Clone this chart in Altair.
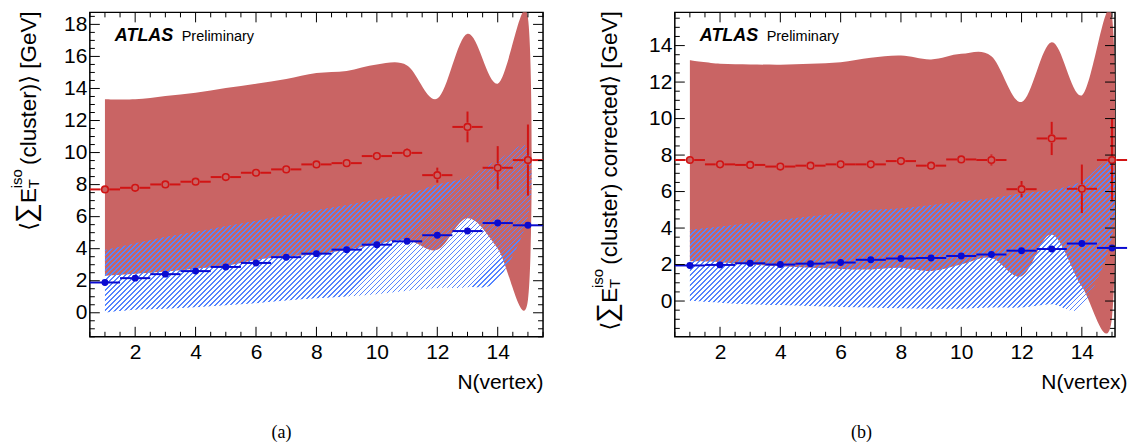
import altair as alt
import pandas as pd

NVTX = list(range(1, 16))

# ---------------- panel (a) ----------------
A_RED = [7.70, 7.80, 8.01, 8.18, 8.47, 8.74, 8.95, 9.26, 9.34, 9.78, 9.98, 8.59, 11.60, 9.05, 9.53]
A_RED_ERR = [0, 0, 0, 0, 0, 0, 0, 0, 0, 0, 0.22, 0.47, 0.96, 1.35, 2.22]
A_BLUE = [1.89, 2.16, 2.41, 2.60, 2.86, 3.11, 3.47, 3.69, 3.94, 4.25, 4.46, 4.84, 5.10, 5.60, 5.46]
A_RED_UP = [13.32, 13.32, 13.53, 13.74, 14.03, 14.30, 14.59, 14.96, 15.09, 15.50, 15.44, 13.37, 17.41, 14.30, 18.40]
A_RED_LO = [2.30, 2.43, 2.57, 2.74, 2.93, 3.30, 3.51, 3.66, 3.93, 4.30, 4.55, 3.93, 5.90, 4.00, 0.80]
A_BLUE_UP = [3.92, 4.34, 4.75, 5.06, 5.42, 5.75, 6.10, 6.41, 6.72, 7.08, 7.41, 8.00, 8.49, 9.53, 10.30]
A_BLUE_LO = [0.02, 0.19, 0.25, 0.35, 0.47, 0.60, 0.77, 0.91, 1.02, 1.16, 1.37, 1.54, 1.60, 2.05, 6.00]

# ---------------- panel (b) ----------------
B_RED = [7.73, 7.49, 7.46, 7.37, 7.42, 7.49, 7.49, 7.67, 7.42, 7.76, 7.73, 6.13, 8.91, 6.15, 7.73]
B_RED_ERR = [0, 0, 0, 0, 0, 0, 0, 0, 0, 0, 0.30, 0.45, 0.91, 1.33, 2.27]
B_BLUE = [1.95, 1.98, 2.07, 2.00, 2.05, 2.11, 2.26, 2.33, 2.36, 2.47, 2.55, 2.76, 2.85, 3.15, 2.91]
B_RED_UP = [13.19, 13.00, 12.97, 12.95, 13.00, 13.09, 13.33, 13.45, 13.24, 13.55, 13.42, 10.91, 14.18, 11.27, 15.60]
B_RED_LO = [2.18, 2.13, 2.00, 1.91, 1.82, 1.76, 1.73, 1.82, 1.64, 2.00, 2.36, 1.36, 3.64, 0.80, -0.90]
B_BLUE_UP = [3.91, 4.09, 4.27, 4.45, 4.64, 4.82, 5.00, 5.09, 5.27, 5.46, 5.64, 5.91, 6.09, 6.55, 7.60]
B_BLUE_LO = [0.00, -0.09, -0.18, -0.22, -0.27, -0.33, -0.36, -0.40, -0.42, -0.42, -0.36, -0.36, -0.18, -0.30, 3.50]

X_LABELS = [2, 4, 6, 8, 10, 12, 14]
A_Y_LABELS = [0, 2, 4, 6, 8, 10, 12, 14, 16, 18]
B_Y_LABELS = [0, 2, 4, 6, 8, 10, 12, 14]

FONT = "Liberation Sans"
TFONT = "Liberation Sans, DejaVu Sans"
RED_BAND = "#c96464"
RED = "#d11414"
BLUE = "#0b0bd0"
HATCH = "#5585ff"
HATCH_T = "rgba(85,133,255,0)"
H = 325


def spline_bbox(px, py):
    """Bounding box (pixels) of the d3 'cardinal' curve through the given pixel points."""
    n = len(px)
    k = 1.0 / 6.0
    xs_all, ys_all = list(px), list(py)
    for i in range(n - 1):
        im1 = max(i - 1, 0)
        ip2 = min(i + 2, n - 1)
        if i == 0:
            c1 = (px[0], py[0])
        else:
            c1 = (px[i] + k * (px[i + 1] - px[im1]), py[i] + k * (py[i + 1] - py[im1]))
        if i == n - 2:
            c2 = (px[n - 1], py[n - 1])
        else:
            c2 = (px[i + 1] - k * (px[ip2] - px[i]), py[i + 1] - k * (py[ip2] - py[i]))
        for s in range(1, 40):
            t = s / 40.0
            a, b, c, d = (1 - t) ** 3, 3 * (1 - t) ** 2 * t, 3 * (1 - t) * t * t, t ** 3
            xs_all.append(a * px[i] + b * c1[0] + c * c2[0] + d * px[i + 1])
            ys_all.append(a * py[i] + b * c1[1] + c * c2[1] + d * py[i + 1])
    return max(xs_all) - min(xs_all), max(ys_all) - min(ys_all)


def hatch_fill(w, h, period=5.0, frac=0.36):
    r = h / w
    s = (1 + r) / (1 + r * r)
    dt = period / (w + h)
    stops = []
    k = 0
    while (k + 1) * dt <= 1:
        a = round(k * dt, 6)
        b = round(k * dt + frac * dt, 6)
        stops += [alt.GradientStop(color=HATCH_T, offset=a),
                  alt.GradientStop(color=HATCH, offset=a),
                  alt.GradientStop(color=HATCH, offset=b),
                  alt.GradientStop(color=HATCH_T, offset=b)]
        k += 1
    return alt.LinearGradient(gradient="linear", stops=stops, x1=0, y1=0, x2=s, y2=s * r)


def polygon(up, lo):
    return pd.DataFrame({"x": NVTX + NVTX[::-1], "y": up + lo[::-1], "i": list(range(2 * len(NVTX)))})


def text_layer(txt, x, y, size, align="left", angle=0, weight="normal", style="normal",
               font=FONT, baseline="middle"):
    return alt.Chart(pd.DataFrame({"t": [txt]})).mark_text(
        font=font, fontSize=size, align=align, angle=angle, fontWeight=weight,
        fontStyle=style, baseline=baseline, color="black"
    ).encode(text="t:N", x=alt.value(x), y=alt.value(y))


def panel(W, xdom, ydom, red, red_err, blue, red_up, red_lo, blue_up, blue_lo,
          ylabels, ymain, tx, ty, xtitle_x, caption, cap_x, anchor_x):
    xs = alt.Scale(domain=xdom, nice=False, zero=False)
    ys = alt.Scale(domain=ydom, nice=False, zero=False)
    xax = alt.Axis(values=X_LABELS, ticks=False, domain=False, grid=False, labelFontSize=21,
                   labelPadding=5, labelFont=FONT, labelColor="black", title="N(vertex)",
                   titleFont=FONT, titleFontSize=21, titleFontWeight="normal", titleColor="black",
                   titleX=xtitle_x, titleY=52, titleAlign="right", titleBaseline="alphabetic")
    yax = alt.Axis(values=ylabels, ticks=False, domain=False, grid=False, labelFontSize=21,
                   labelPadding=3, labelFont=FONT, labelColor="black", title="")

    def X(f):
        return alt.X(f, type="quantitative", scale=xs, axis=xax)

    def Y(f):
        return alt.Y(f, type="quantitative", scale=ys, axis=yax)

    pts = pd.DataFrame({"n": NVTX, "red": red, "err": red_err, "blue": blue})
    pts["lo"] = pts["n"] - 0.5
    pts["hi"] = pts["n"] + 0.5
    pts["rtop"] = pts["red"] + pts["err"]
    pts["rbot"] = pts["red"] - pts["err"]
    perr = pts[pts["err"] > 0.2]

    blue_poly = polygon(blue_up, blue_lo)
    bpx = [(v - xdom[0]) / (xdom[1] - xdom[0]) * W for v in blue_poly["x"]]
    bpy = [(ydom[1] - v) / (ydom[1] - ydom[0]) * H for v in blue_poly["y"]]
    hw, hh = spline_bbox(bpx, bpy)

    layers = []
    # invisible anchor for layout
    layers.append(alt.Chart(pd.DataFrame({"a": [0]})).mark_rule(opacity=0, strokeWidth=0.01).encode(
        x=alt.value(anchor_x), y=alt.value(-11), y2=alt.value(434)))
    layers.append(alt.Chart(polygon(red_up, red_lo)).mark_line(
        filled=True, interpolate="cardinal", clip=True, color=RED_BAND, opacity=1).encode(
        x=X("x"), y=Y("y"), order=alt.Order("i:Q")))
    layers.append(alt.Chart(blue_poly).mark_line(
        filled=True, interpolate="cardinal", clip=True, fill=hatch_fill(hw, hh), opacity=1).encode(
        x=X("x"), y=Y("y"), order=alt.Order("i:Q")))
    # blue points
    layers.append(alt.Chart(pts).mark_rule(color=BLUE, strokeWidth=2).encode(
        x=X("lo"), x2="hi", y=Y("blue")))
    layers.append(alt.Chart(pts).mark_circle(color=BLUE, size=48, opacity=1).encode(
        x=X("n"), y=Y("blue")))
    # red points
    gap = 4.3
    layers.append(alt.Chart(pts).mark_rule(color=RED, strokeWidth=2, x2Offset=-gap).encode(
        x=X("lo"), x2="n", y=Y("red")))
    layers.append(alt.Chart(pts).mark_rule(color=RED, strokeWidth=2, xOffset=gap).encode(
        x=X("n"), x2="hi", y=Y("red")))
    layers.append(alt.Chart(perr).mark_rule(color=RED, strokeWidth=2, y2Offset=-gap).encode(
        x=X("n"), y=Y("rtop"), y2="red"))
    layers.append(alt.Chart(perr).mark_rule(color=RED, strokeWidth=2, yOffset=gap).encode(
        x=X("n"), y=Y("red"), y2="rbot"))
    layers.append(alt.Chart(pts).mark_point(shape="circle", filled=True, fill=RED_BAND, stroke=RED,
                                            strokeWidth=1.6, size=44, opacity=1).encode(
        x=X("n"), y=Y("red")))

    # tick marks (inside, all four sides)
    ymin_ticks = [v / 2 for v in range(int(ydom[0] * 2) - 1, int(ydom[1] * 2) + 2) if ydom[0] <= v / 2 <= ydom[1]]
    ymaj = pd.DataFrame({"v": [v for v in ymin_ticks if v % 2 == 0]})
    ymin = pd.DataFrame({"v": [v for v in ymin_ticks if v % 2 != 0]})
    xmin_ticks = [v / 2 for v in range(1, 32) if xdom[0] <= v / 2 <= xdom[1]]
    xmaj = pd.DataFrame({"v": [v for v in xmin_ticks if v % 2 == 0]})
    xmin = pd.DataFrame({"v": [v for v in xmin_ticks if v % 2 != 0]})
    for df, L in ((ymaj, 10), (ymin, 5)):
        layers.append(alt.Chart(df).mark_rule(color="black", strokeWidth=1).encode(
            y=Y("v"), x=alt.value(0), x2=alt.value(L)))
        layers.append(alt.Chart(df).mark_rule(color="black", strokeWidth=1).encode(
            y=Y("v"), x=alt.value(W - L), x2=alt.value(W)))
    for df, L in ((xmaj, 10), (xmin, 5)):
        layers.append(alt.Chart(df).mark_rule(color="black", strokeWidth=1).encode(
            x=X("v"), y=alt.value(H), y2=alt.value(H - L)))
        layers.append(alt.Chart(df).mark_rule(color="black", strokeWidth=1).encode(
            x=X("v"), y=alt.value(0), y2=alt.value(L)))

    # texts
    layers.append(text_layer("ATLAS", 25, 29, 18, weight="bold", style="italic", baseline="alphabetic"))
    layers.append(text_layer("Preliminary", 92, 29, 14.5, baseline="alphabetic"))
    # rotated y title, pieces anchored at their top ends
    layers.append(text_layer(ymain, tx, -1, 22.5, align="right", angle=270, font=TFONT))
    layers.append(text_layer("iso", tx - 12, ty, 15, align="right", angle=270, font=TFONT))
    layers.append(text_layer("T", tx + 5, ty + 10, 15, align="right", angle=270, font=TFONT))
    layers.append(text_layer("E", tx, ty + 19, 22.5, align="right", angle=270, font=TFONT))
    layers.append(text_layer("∑", tx - 2, ty + 34, 28, align="right", angle=270, font=TFONT))
    layers.append(text_layer("⟨", tx, ty + 53, 22.5, align="right", angle=270, font=TFONT))
    layers.append(text_layer(caption, cap_x, 421, 18, align="center", font="Liberation Serif"))

    return alt.layer(*layers).properties(width=W, height=H)


left = panel(454, [0.5, 15.5], [-1.5, 18.75], A_RED, A_RED_ERR, A_BLUE, A_RED_UP, A_RED_LO,
             A_BLUE_UP, A_BLUE_LO, A_Y_LABELS, "(cluster)⟩  [GeV]", -61, 157,
             454, "(a)", 192, -89)
right = panel(441, [0.5, 15.1], [-1.96, 15.82], B_RED, B_RED_ERR, B_BLUE, B_RED_UP, B_RED_LO,
              B_BLUE_UP, B_BLUE_LO, B_Y_LABELS, "(cluster) corrected⟩  [GeV]", -65, 257,
              453, "(b)", 187, -129)

chart = alt.hconcat(left, right, spacing=0).properties(padding=0).configure_view(
    stroke="black", strokeWidth=1.5)

chart.save("out.html", embed_options={"renderer": "svg", "actions": False})
